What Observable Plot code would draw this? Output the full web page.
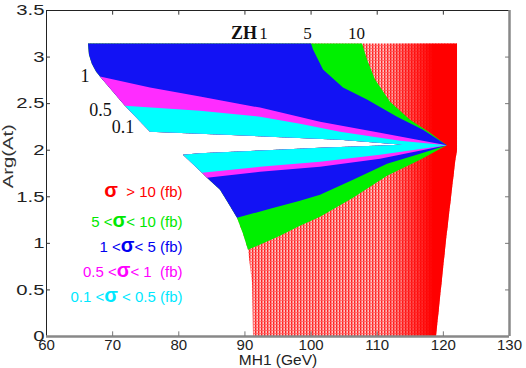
<!DOCTYPE html>
<html><head><meta charset="utf-8">
<script src="https://cdn.jsdelivr.net/npm/d3@7"></script>
<script src="https://cdn.jsdelivr.net/npm/@observablehq/plot@0.6"></script>
<style>
body{margin:0;background:#fff}
#chart{width:526px;height:368px}
svg text{white-space:pre}
</style>
</head><body><div id="chart"></div>
<script>
// ---- axes ----
const xTicks = [60, 70, 80, 90, 100, 110, 120, 130];
const xTickLabels = ["60", "70", "80", "90", "100", "110", "120", "130"];
const yTicks = [0, 0.5, 1, 1.5, 2, 2.5, 3, 3.5];
const yTickLabels = ["0", "0.5", "1", "1.5", "2", "2.5", "3", "3.5"];

// ---- outer envelope of the scanned region (MH1, Arg(At)) ----
const upperLeftEdge = [[66.35,3.14],[66.50,3.02],[66.95,2.92],[67.56,2.84],[68.16,2.785],[71.94,2.473],[75.72,2.194]];
const gapUpperEdge  = [[75.72,2.194],[83.28,2.172],[93.87,2.140],[104.45,2.108],[113.98,2.054]];
const gapLowerEdge  = [[80.71,1.946],[83.28,1.962],[93.41,1.995],[101.43,2.022],[113.98,2.054]];
const lowerLeftEdge = [[80.71,1.946],[83.59,1.753],[84.34,1.699],[86.31,1.57],[87.52,1.43],[88.88,1.269],[89.79,1.097],[90.54,0.925],[91.15,0.57],[91.30,0]];
const rightEdge     = [[122.14,3.14],[122.14,2.0],[121.84,1.86],[121.54,1.677],[120.48,1.032],[118.97,0]];
const tip = [120.6, 2.048];

// ---- cross-section contours (fb) ----
const greenRedUpper    = [[107.78,3.14],[108.53,2.968],[109.74,2.753],[112.01,2.516],[115.03,2.323],[118.06,2.183]];
const blueGreenUpper   = [[100.07,3.14],[100.37,3.075],[101.88,2.860],[104.90,2.667],[108.53,2.538],[113.07,2.355],[117.00,2.215]];
const magentaBlueUpper = [[68.16,2.785],[75.72,2.667],[83.28,2.570],[92.36,2.452],[101.43,2.301],[110.50,2.183]];
const cyanMagentaUpper = [[71.94,2.473],[83.28,2.419],[92.36,2.355],[98.40,2.280],[104.45,2.194],[113.52,2.097]];
const cyanMagentaLower = [[83.59,1.753],[92.36,1.817],[101.43,1.871],[110.50,1.946]];
const magentaBlueLower = [[84.34,1.699],[92.36,1.763],[101.43,1.817],[110.50,1.903]];
const blueGreenLower   = [[88.88,1.269],[93.87,1.366],[98.40,1.452],[101.43,1.516],[106.42,1.677],[111.56,1.849],[116.55,1.957]];
const greenRedLower    = [[90.54,0.925],[95.38,1.075],[98.40,1.183],[101.43,1.280],[106.42,1.484],[111.56,1.720],[116.55,1.892]];

// ---- texts ----
const legendLabels = ["σ  > 10 (fb)", "5 <σ< 10 (fb)", "1 <σ< 5 (fb)", "0.5 <σ< 1  (fb)", "0.1 <σ < 0.5 (fb)"];
const legendColors = ["#ff0000", "#00e800", "#0000f0", "#ff00ff", "#00e8ff"];
const legendY = [1.548, 1.226, 0.957, 0.688, 0.419];
const legendX = 80.56;
const topLabels = ["ZH", "1", "5", "10"];
const topLabelX = [89.86, 92.81, 99.46, 106.87];
const topLabelY = 3.256;
const leftLabels = ["1", "0.5", "0.1"];
const leftLabelX = [65.82, 68.16, 71.57];
const leftLabelY = [2.790, 2.430, 2.242];

// ---- layout ----
const W = 526, H = 368, mL = 46, mR = 17, mT = 10, mB = 32;
const px = v => mL + (v - 60) / 70 * (W - mL - mR);

function idx(arr, p) { return arr.findIndex(q => q[0] === p[0] && q[1] === p[1]); }
function closeLeft(pts, lowerStart, upperStopIdx) {
  const il = idx(lowerLeftEdge, lowerStart);
  for (let k = il - 1; k >= 0; k--) pts.push(lowerLeftEdge[k]);
  pts.push(...gapLowerEdge.slice(1));
  pts.push(...gapUpperEdge.slice(0, -1).reverse());
  for (let k = upperLeftEdge.length - 2; k >= upperStopIdx; k--) pts.push(upperLeftEdge[k]);
  return pts;
}
function layer(upperB, lowerB) {
  const top = upperB[0][1] === 3.14;
  const pts = [];
  if (top) pts.push(upperLeftEdge[0]);
  pts.push(...upperB, tip, ...lowerB.slice().reverse());
  const stop = top ? 1 : idx(upperLeftEdge, upperB[0]) + 1;
  return closeLeft(pts, lowerB[0], stop);
}
function redLayer() {
  const pts = [upperLeftEdge[0], ...rightEdge, lowerLeftEdge[lowerLeftEdge.length - 1]];
  return closeLeft(pts, lowerLeftEdge[lowerLeftEdge.length - 1], 1);
}
function poly(pts, fill) {
  const p0 = pts[0];
  return Plot.area(pts, {x1: () => p0[0], y1: () => p0[1], x2: d => d[0], y2: d => d[1], fill, curve: "linear"});
}

const redPts = redLayer();
const sans = "Liberation Sans, Arial, Helvetica, sans-serif";
const serif = "Liberation Serif, Times New Roman, serif";

const svg = Plot.plot({
  width: W, height: H, marginLeft: mL, marginRight: mR, marginTop: mT, marginBottom: mB,
  x: {domain: [60, 130], axis: null},
  y: {domain: [0, 3.5], axis: null},
  style: {background: "white", overflow: "visible"},
  marks: [
    poly(redPts, "url(#redTex)"),
    poly(redPts, "url(#redFade)"),
    poly(layer(greenRedUpper, greenRedLower), "#00f000"),
    poly(layer(blueGreenUpper, blueGreenLower), "#1212f4"),
    poly(layer(magentaBlueUpper, magentaBlueLower), "#ff2cff"),
    poly(layer(cyanMagentaUpper, cyanMagentaLower), "#00ffff"),
    // frame
    Plot.ruleY([3.5], {stroke: "#222", strokeWidth: 1}),
    Plot.ruleX([60], {stroke: "#222", strokeWidth: 1}),
    Plot.ruleY([0], {stroke: "#888", strokeWidth: 2.5}),
    Plot.ruleX([130], {stroke: "#888", strokeWidth: 2.5}),
    // inward ticks
    Plot.ruleX(xTicks.slice(1, -1), {x: d => d, y1: 0, y2: 0.05, stroke: "#777"}),
    Plot.ruleX(xTicks.slice(1, -1), {x: d => d, y1: 3.5, y2: 3.45, stroke: "#333"}),
    Plot.ruleY(yTicks.slice(1, -1), {y: d => d, x1: 60, x2: 60.6, stroke: "#333"}),
    Plot.ruleY(yTicks.slice(1, -1), {y: d => d, x1: 130, x2: 129.4, stroke: "#777"}),
    // tick labels
    Plot.text(yTicks, {x: 60, y: d => d, text: (d, i) => yTickLabels[i], textAnchor: "end", dx: -2, fontSize: 15, fontFamily: sans, fill: "#222"}),
    Plot.text(xTicks, {x: d => d, y: 0, text: (d, i) => xTickLabels[i], lineAnchor: "top", dy: 3, fontSize: 15, fontFamily: sans, fill: "#222"}),
    Plot.text(["Arg(At)"], {x: 60, y: 1.935, text: d => d, rotate: -90, dx: -38, fontSize: 15, fontFamily: sans, fill: "#333"}),
    Plot.text(["MH1 (GeV)"], {x: 95, y: 0, text: d => d, dy: 24, fontSize: 15.5, fontFamily: sans, fill: "#222"}),
    // legend
    Plot.text(legendLabels, {x: legendX, y: (d, i) => legendY[i], text: d => d, fill: (d, i) => legendColors[i], textAnchor: "end", fontSize: 15, fontFamily: sans}),
    // annotations
    Plot.text(topLabels, {x: (d, i) => topLabelX[i], y: topLabelY, text: d => d, fontSize: 17, fontFamily: serif, fill: "#111"}),
    Plot.text(leftLabels, {x: (d, i) => leftLabelX[i], y: (d, i) => leftLabelY[i], text: d => d, fontSize: 18, fontFamily: serif, fill: "#111"})
  ]
});

document.getElementById("chart").appendChild(svg);

// colour definitions (pattern for the sparse red scan lines, fade to solid red)
const defs = d3.select(svg).insert("defs", ":first-child");
const pat = defs.append("pattern").attr("id", "redTex").attr("patternUnits", "userSpaceOnUse").attr("width", 3).attr("height", 3);
pat.append("rect").attr("width", 3).attr("height", 3).attr("fill", "#ffc4c4");
pat.append("rect").attr("width", 1.4).attr("height", 3).attr("fill", "#ff2020");
pat.append("rect").attr("width", 3).attr("height", 0.8).attr("fill", "#ff6060");
const grad = defs.append("linearGradient").attr("id", "redFade").attr("gradientUnits", "userSpaceOnUse")
  .attr("x1", px(111)).attr("x2", px(118.5)).attr("y1", 0).attr("y2", 0);
grad.append("stop").attr("offset", 0).attr("stop-color", "#ff0000").attr("stop-opacity", 0);
grad.append("stop").attr("offset", 1).attr("stop-color", "#ff0000").attr("stop-opacity", 1);

// horizontal stretch of the y-axis texts as in the original (via textLength)
function stretch(group, s) {
  if (!group) return;
  group.querySelectorAll("text").forEach(el => {
    try {
      const w = el.getComputedTextLength();
      if (w > 0) {
        el.setAttribute("textLength", (w * s).toFixed(1));
        el.setAttribute("lengthAdjust", "spacingAndGlyphs");
      }
    } catch (e) {}
  });
}
const textGroups = svg.querySelectorAll('g[aria-label="text"]');
stretch(textGroups[0], 1.35);
stretch(textGroups[2], 1.35);
// larger sigma symbol in the legend
if (textGroups[4]) textGroups[4].querySelectorAll("text").forEach(el => {
  const parts = el.textContent.split("σ");
  while (el.firstChild) el.removeChild(el.firstChild);
  parts.forEach((p, k) => {
    if (k > 0) {
      const s = document.createElementNS("http://www.w3.org/2000/svg", "tspan");
      s.setAttribute("font-size", "20"); s.setAttribute("font-weight", "bold");
      s.textContent = "σ"; el.appendChild(s);
    }
    el.appendChild(document.createTextNode(p));
  });
});
const zh = textGroups[5] && textGroups[5].querySelector("text");
if (zh) { zh.setAttribute("font-weight", "bold"); zh.setAttribute("font-size", "18"); }
</script>
</body></html>
